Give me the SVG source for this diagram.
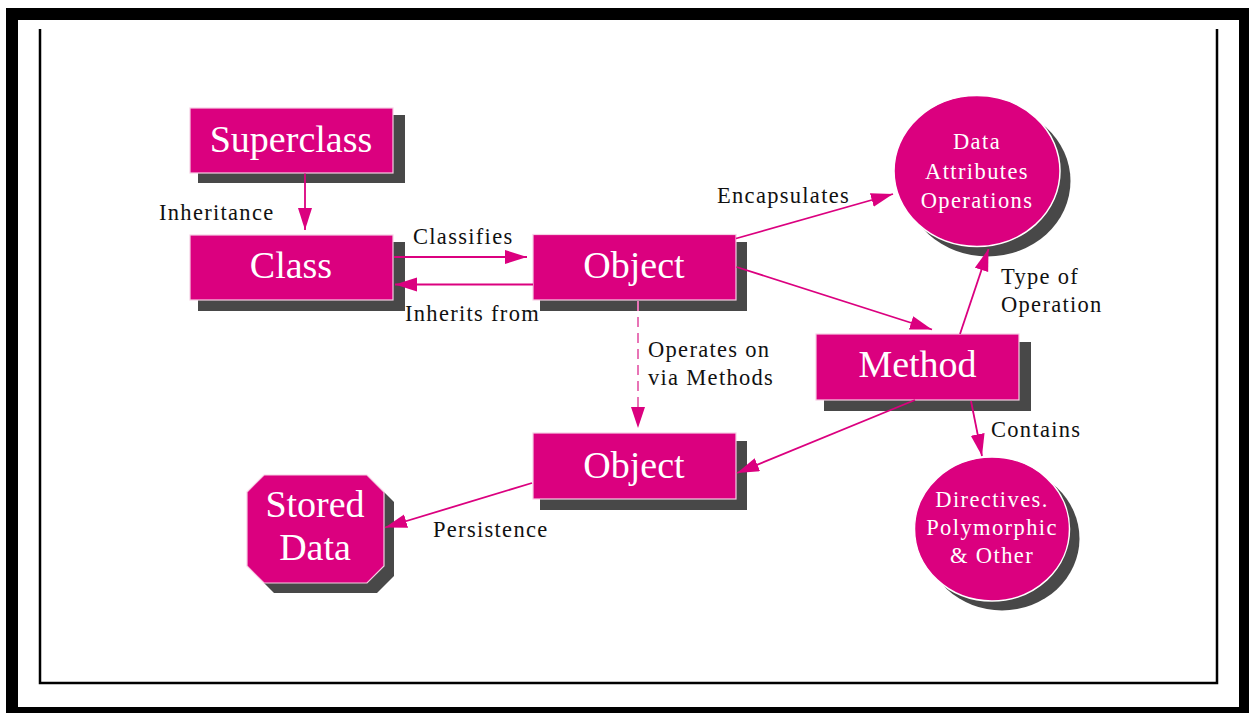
<svg xmlns="http://www.w3.org/2000/svg" width="1249" height="713" viewBox="0 0 1249 713">
<defs>
<style>
.shadow{fill:#484848}
.node{fill:#db007f;stroke:#f6cfe4;stroke-width:1.2}
.big{font-family:"Liberation Serif","Times New Roman",serif;font-size:38px;fill:#fff;text-anchor:middle}
.small{font-family:"Liberation Serif","Times New Roman",serif;font-size:22.5px;letter-spacing:1.4px;fill:#fff;text-anchor:middle}
.lbl{font-family:"Liberation Serif","Times New Roman",serif;font-size:22.5px;letter-spacing:1.3px;fill:#111}
.conn{stroke:#db007f;stroke-width:1.8;fill:none}
.dash{stroke:#e874b6;stroke-width:2;fill:none;stroke-dasharray:10 6}
</style>
<marker id="ah" markerUnits="userSpaceOnUse" markerWidth="24" markerHeight="16" refX="22" refY="7" orient="auto">
<path d="M0,0 L22,7 L0,14 Z" fill="#db007f"/>
</marker>
</defs>
<rect x="0" y="0" width="1249" height="713" fill="#fff"/>
<g id="frame">
<rect x="6" y="8" width="1243" height="705" fill="#000"/>
<rect x="18" y="20" width="1221" height="687" fill="#fff"/>
<path d="M40,29 V683 H1217 V29" fill="none" stroke="#000" stroke-width="2.5"/>
</g>
<g id="superclass">
<rect class="shadow" x="198" y="115" width="207" height="68"/>
<rect class="node" x="190" y="108" width="203" height="65"/>
<text class="big" x="291" y="152">Superclass</text>
</g>
<g id="class">
<rect class="shadow" x="198" y="242" width="207" height="69"/>
<rect class="node" x="190" y="235" width="203" height="65"/>
<text class="big" x="291" y="278">Class</text>
</g>
<g id="object1">
<rect class="shadow" x="540" y="242" width="207" height="69"/>
<rect class="node" x="533" y="234.5" width="203" height="65.5"/>
<text class="big" x="634" y="278">Object</text>
</g>
<g id="method">
<rect class="shadow" x="824" y="342" width="207" height="69"/>
<rect class="node" x="816" y="334" width="203" height="66"/>
<text class="big" x="917.5" y="377">Method</text>
</g>
<g id="object2">
<rect class="shadow" x="540" y="441" width="207" height="69"/>
<rect class="node" x="533" y="433" width="203" height="66"/>
<text class="big" x="634" y="478">Object</text>
</g>
<g id="stored-data">
<polygon class="shadow" points="274,485 377,485 394,502 394,576 377,593 274,593 257,576 257,502"/>
<polygon class="node" points="264,475 367,475 384,492 384,566 367,583 264,583 247,566 247,492"/>
<text class="big" x="315" y="517">Stored</text>
<text class="big" x="315" y="560">Data</text>
</g>
<g id="data-circle">
<ellipse class="shadow" cx="987.5" cy="181" rx="83" ry="75.5"/>
<ellipse cx="977" cy="171" rx="83" ry="75.5" fill="#db007f" stroke="#fff" stroke-width="1.5"/>
<text class="small" x="977" y="149">Data</text>
<text class="small" x="977" y="179">Attributes</text>
<text class="small" x="977" y="208">Operations</text>
</g>
<g id="directives-circle">
<ellipse class="shadow" cx="1002" cy="538.5" rx="77.5" ry="72"/>
<ellipse cx="992" cy="529" rx="77.5" ry="72" fill="#db007f" stroke="#fff" stroke-width="1.5"/>
<text class="small" x="992" y="507">Directives.</text>
<text class="small" x="992" y="535">Polymorphic</text>
<text class="small" x="992" y="563">&amp; Other</text>
</g>
<g id="connectors">
<line class="conn" x1="305" y1="173.5" x2="305" y2="230" marker-end="url(#ah)"/>
<line class="conn" x1="394" y1="257" x2="527" y2="257" marker-end="url(#ah)"/>
<line class="conn" x1="533" y1="284.5" x2="395" y2="284.5" marker-end="url(#ah)"/>
<line class="conn" x1="736" y1="238.5" x2="893" y2="194" marker-end="url(#ah)"/>
<line class="conn" x1="736.5" y1="267" x2="932" y2="329.5" marker-end="url(#ah)"/>
<line class="conn" x1="960" y1="334" x2="988.5" y2="249" marker-end="url(#ah)"/>
<line class="conn" x1="971" y1="401" x2="982" y2="456" marker-end="url(#ah)"/>
<line class="conn" x1="915" y1="400" x2="737" y2="473" marker-end="url(#ah)"/>
<line class="dash" x1="638" y1="301" x2="638" y2="410"/>
<path d="M631,407 L645,407 L638,428 Z" fill="#db007f"/>
<line class="conn" x1="532" y1="483" x2="385" y2="527.5" marker-end="url(#ah)"/>
</g>
<g id="labels">
<text class="lbl" x="159" y="220">Inheritance</text>
<text class="lbl" x="413" y="244">Classifies</text>
<text class="lbl" x="405" y="321">Inherits from</text>
<text class="lbl" x="717" y="203">Encapsulates</text>
<text class="lbl" x="1001" y="284">Type of</text>
<text class="lbl" x="1001" y="312">Operation</text>
<text class="lbl" x="648" y="357">Operates on</text>
<text class="lbl" x="648" y="385">via Methods</text>
<text class="lbl" x="991" y="437">Contains</text>
<text class="lbl" x="433" y="537">Persistence</text>
</g>
</svg>
